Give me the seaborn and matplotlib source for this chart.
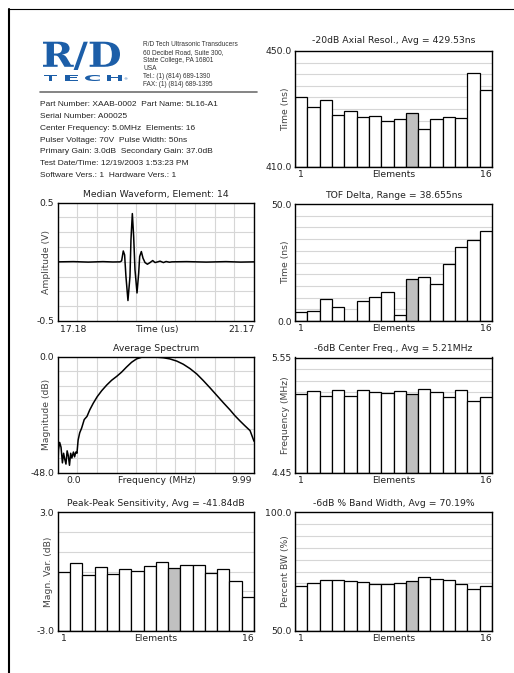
import numpy as np
import pandas as pd
import matplotlib
matplotlib.use("Agg")
import matplotlib.pyplot as plt
import matplotlib.transforms as mtransforms
import seaborn as sns
from matplotlib.textpath import TextPath
from matplotlib.patches import PathPatch
from matplotlib.font_manager import FontProperties
from matplotlib.lines import Line2D

# ---- values ----
elements = [str(i) for i in range(1, 17)]
ref_element = "10"

axial_resol_ns = [434.0, 430.6, 433.1, 427.9, 429.3, 427.1, 427.5, 425.9,
                  426.4, 428.5, 423.2, 426.5, 427.4, 427.0, 442.3, 436.6]
tof_delta_ns = [3.7, 4.1, 9.3, 6.1, 0.0, 8.4, 10.4, 12.5,
                2.7, 18.1, 18.7, 16.0, 24.2, 31.8, 34.5, 38.655]
center_freq_mhz = [5.200, 5.234, 5.184, 5.240, 5.184, 5.240, 5.225, 5.216,
                   5.231, 5.200, 5.247, 5.225, 5.178, 5.240, 5.131, 5.178]
sensitivity_db = [-0.04, 0.42, -0.19, 0.23, -0.14, 0.15, 0.01, 0.26,
                  0.47, 0.20, 0.35, 0.31, -0.07, 0.15, -0.48, -1.31]
bandwidth_pct = [68.9, 70.1, 71.3, 71.4, 71.0, 70.4, 69.7, 69.9,
                 70.3, 70.8, 72.5, 71.7, 71.3, 69.7, 67.6, 68.9]

# median waveform, element 14 (time in us, amplitude in V)
wave_t = [17.18, 17.50, 17.80, 18.10, 18.30, 18.445, 18.479, 18.513, 18.540,
          18.567, 18.608, 18.649, 18.669, 18.697, 18.724, 18.751, 18.792,
          18.826, 18.846, 18.880, 18.914, 18.955, 19.003, 19.057, 19.111,
          19.159, 19.213, 19.261, 19.329, 19.383, 19.451, 19.50, 19.80,
          20.20, 20.60, 20.90, 21.17]
wave_v = [0.0, 0.002, -0.002, 0.002, -0.001, 0.0, 0.008, 0.092, 0.059,
          -0.123, -0.327, -0.123, 0.185, 0.408, 0.213, -0.067, -0.263,
          -0.095, 0.045, 0.087, 0.031, -0.006, -0.020, -0.006, 0.011,
          -0.006, 0.0, 0.006, -0.006, 0.003, -0.003, 0.0, 0.002,
          -0.002, 0.002, -0.002, 0.0]

# average spectrum (MHz, dB)
spec_f = [0.00, 0.04, 0.10, 0.17, 0.24, 0.30, 0.36, 0.42, 0.48, 0.54, 0.60,
          0.66, 0.72, 0.80, 0.86, 0.92, 0.98, 1.04, 1.12, 1.22, 1.35, 1.49,
          1.63, 1.81, 2.01, 2.24, 2.49, 2.74, 3.01, 3.25, 3.50, 3.76, 4.01,
          4.27, 4.52, 4.70, 5.00, 5.37, 5.71, 6.06, 6.39, 6.73, 7.07, 7.41,
          7.75, 8.09, 8.43, 8.77, 9.02, 9.28, 9.53, 9.79, 9.99]
spec_db = [-48.0, -38.5, -35.5, -37.5, -44.0, -40.0, -42.5, -44.5, -39.0,
           -41.0, -45.0, -40.0, -42.0, -39.5, -41.5, -39.5, -40.0, -34.5,
           -31.5, -29.5, -26.0, -24.7, -22.0, -19.2, -16.5, -14.0, -11.7,
           -9.7, -8.0, -6.3, -4.2, -2.2, -0.8, -0.1, 0.0, 0.0, -0.05, -0.3,
           -0.8, -1.7, -3.0, -4.8, -7.0, -9.8, -12.8, -15.9, -19.0, -22.0,
           -24.4, -26.6, -28.6, -30.6, -35.0]

address_lines = ["R/D Tech Ultrasonic Transducers", "60 Decibel Road, Suite 300,",
                 "State College, PA 16801", "USA", "Tel.: (1) (814) 689-1390",
                 "FAX: (1) (814) 689-1395"]
info_lines = ["Part Number: XAAB-0002  Part Name: 5L16-A1",
              "Serial Number: A00025",
              "Center Frequency: 5.0MHz  Elements: 16",
              "Pulser Voltage: 70V  Pulse Width: 50ns",
              "Primary Gain: 3.0dB  Secondary Gain: 37.0dB",
              "Test Date/Time: 12/19/2003 1:53:23 PM",
              "Software Vers.: 1  Hardware Vers.: 1"]

W, H = 514, 673
GRID = "#d6d6d6"
TXT = "#222222"
BLUE = "#1c5ea8"
FS = 6.7

sns.set_theme(style="white")
plt.rcParams["font.family"] = ["DejaVu Sans"]

fig = plt.figure(figsize=(W / 100, H / 100), dpi=100)
fig.patch.set_facecolor("white")


def px_rect(left, top, right, bottom):
    return [left / W, 1 - bottom / H, (right - left) / W, (bottom - top) / H]


def frame(ax, lo, hi, ny, lo_lbl, hi_lbl):
    ax.set_ylim(lo, hi)
    ax.set_yticks([lo, hi], [lo_lbl, hi_lbl])
    ax.set_yticks(np.linspace(lo, hi, ny + 1), minor=True)
    ax.grid(False)
    ax.grid(which="minor", axis="y", color=GRID, lw=0.8)
    ax.tick_params(which="both", length=0, labelsize=FS, colors=TXT, pad=2.5)
    for sp in ax.spines.values():
        sp.set_visible(True)
        sp.set_color("black")
        sp.set_linewidth(1.0)
    ax.set_axisbelow(True)


def side_label(ax, text, xpos):
    ax.set_ylabel(text, fontsize=FS, color="#444444")
    ax.yaxis.set_label_coords(xpos, 0.5)
    ax.yaxis.label.set_va("center")


def bar_panel(rect, values, lo, hi, ny, lbls, title, ylabel, title_pad=4.5):
    ax = fig.add_axes(rect)
    df = pd.DataFrame({"element": elements, "value": values})
    df["height"] = df["value"] - lo
    pal = {e: ("#c0c0c0" if e == ref_element else "white") for e in elements}
    sns.barplot(data=df, x="element", y="height", hue="element", palette=pal,
                legend=False, width=1.0, saturation=1, edgecolor="black",
                linewidth=0.9, errorbar=None, bottom=lo, ax=ax)
    frame(ax, lo, hi, ny, *lbls)
    ax.set_xlim(-0.5, 15.5)
    ax.set_xticks([0, 7.5, 15], ["1", "Elements", "16"])
    ax.set_xlabel("")
    ax.tick_params(axis="x", pad=2.5)
    side_label(ax, ylabel, -0.047)
    ax.set_title(title, fontsize=FS, color=TXT, pad=title_pad)
    return ax


def line_panel(rect, x, y, xlim, nx, lo, hi, ny, lbls, xlabels, title, ylabel):
    ax = fig.add_axes(rect)
    sns.lineplot(x=x, y=y, color="black", lw=1.1, estimator=None, ax=ax)
    frame(ax, lo, hi, ny, *lbls)
    ax.set_xlim(*xlim)
    ax.set_xticks([])
    ax.set_xticks(np.linspace(xlim[0], xlim[1], nx + 1), minor=True)
    ax.grid(which="minor", axis="x", color=GRID, lw=0.8)
    for xf, s in zip([0.08, 0.504, 0.937], xlabels):
        ax.text(xf, -0.07, s, transform=ax.transAxes, ha="center", va="center",
                fontsize=FS, color=TXT)
    side_label(ax, ylabel, -0.056)
    ax.set_title(title, fontsize=FS, color=TXT, pad=4)
    return ax


# ---- charts ----
bar_panel(px_rect(295, 51, 492, 167), axial_resol_ns, 410.0, 450.0, 10,
          ("410.0", "450.0"), "-20dB Axial Resol., Avg = 429.53ns", "Time (ns)",
          title_pad=5.5)
bar_panel(px_rect(295, 204, 492, 321), tof_delta_ns, 0.0, 50.0, 10,
          ("0.0", "50.0"), "TOF Delta, Range = 38.655ns", "Time (ns)")
bar_panel(px_rect(295, 357.5, 492, 473), center_freq_mhz, 4.45, 5.55, 10,
          ("4.45", "5.55"), "-6dB Center Freq., Avg = 5.21MHz", "Frequency (MHz)")
bar_panel(px_rect(295, 512.3, 492, 630.7), bandwidth_pct, 50.0, 100.0, 10,
          ("50.0", "100.0"), "-6dB % Band Width, Avg = 70.19%", "Percent BW (%)")
bar_panel(px_rect(57.7, 512.3, 254, 630.7), sensitivity_db, -3.0, 3.0, 6,
          ("-3.0", "3.0"), "Peak-Peak Sensitivity, Avg = -41.84dB", "Magn. Var. (dB)")

line_panel(px_rect(57.7, 202.7, 254, 321), wave_t, wave_v, (17.18, 21.17), 10,
           -0.5, 0.5, 8, ("-0.5", "0.5"), ["17.18", "Time (us)", "21.17"],
           "Median Waveform, Element: 14", "Amplitude (V)")
line_panel(px_rect(57.7, 357, 254, 472.5), spec_f, spec_db, (0.0, 9.99), 10,
           -48.0, 0.0, 8, ("-48.0", "0.0"), ["0.0", "Frequency (MHz)", "9.99"],
           "Average Spectrum", "Magnitude (dB)")


# ---- header: logo, address, test info ----
def fit_text(s, box, color, family, weight="bold"):
    l, t, r, b = box
    tp = TextPath((0, 0), s, size=1, prop=FontProperties(family=family, weight=weight))
    ext = tp.get_extents()
    tr = (mtransforms.Affine2D()
          .translate(-ext.x0, -ext.y0)
          .scale((r - l) / ext.width / W, (b - t) / ext.height / H)
          .translate(l / W, 1 - b / H)) + fig.transFigure
    fig.add_artist(PathPatch(tp, transform=tr, facecolor=color, edgecolor="none"))


fit_text("R/D", (43, 41.7, 120, 70), BLUE, "DejaVu Serif")
for ch, (l, r) in zip("TECH", [(44, 57), (65, 78), (85, 100), (107, 122)]):
    fit_text(ch, (l, 75, r, 81), BLUE, "DejaVu Sans")
fig.text(125 / W, 1 - 79.5 / H, "®", fontsize=3, color=BLUE, ha="center", va="center")

for i, s in enumerate(address_lines):
    fig.text(143.3 / W, 1 - (44.3 + 8.0 * i) / H, s, fontsize=4.7, color="#333333",
             va="center", family="Liberation Sans")

fig.add_artist(Line2D([40 / W, 257 / W], [1 - 92.3 / H] * 2, transform=fig.transFigure,
                      color="#707070", lw=1.2))

for i, s in enumerate(info_lines):
    fig.text(40 / W, 1 - (105 + 11.7 * i) / H, s, fontsize=6.0, color=TXT,
             va="center", family="Liberation Sans")

# page frame
fig.add_artist(Line2D([9 / W, 9 / W], [0, 1 - 9 / H], transform=fig.transFigure,
                      color="black", lw=1.5))
fig.add_artist(Line2D([9 / W, 1], [1 - 9 / H] * 2, transform=fig.transFigure,
                      color="black", lw=0.8))

fig.savefig("out.png", dpi=100)
